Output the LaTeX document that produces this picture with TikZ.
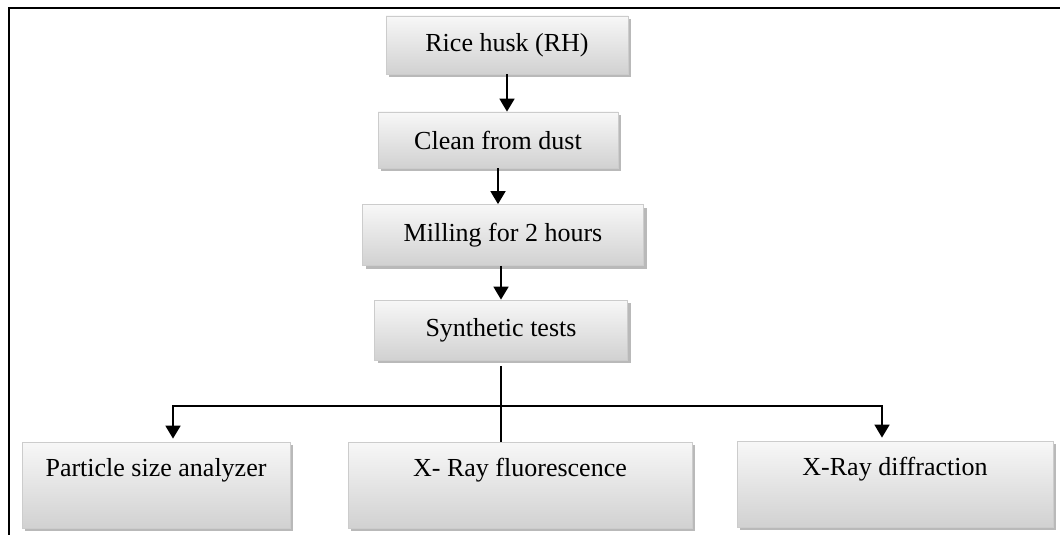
\documentclass[tikz,border=0pt]{standalone}
\usepackage{fontspec}
\setmainfont{Liberation Serif}
\usetikzlibrary{arrows.meta,shadows}

\tikzset{
  box/.style={draw=gray!40, top color=gray!6, bottom color=gray!36,
    drop shadow={shadow xshift=1.5pt, shadow yshift=-1.5pt, fill=gray!55, opacity=1},
    font=\fontsize{13}{15}\selectfont},
  testbox/.style={box, inner ysep=0pt, text height=17.3pt, text depth=25.7pt},
  arrow/.style={-{Triangle[length=6.5pt,width=7.5pt]}, line width=0.9pt},
}

\begin{document}
\begin{tikzpicture}[x=0.5pt, y=-0.5pt, node distance=47.5pt]
			\useasboundingbox (0,0) rectangle (1060,535);
			\draw[line width=1.1pt] (1060,8) -- (9,8) -- (9,535);
			
			\node[box, minimum width=121pt, minimum height=29pt] (rice) at (507,45) {Rice husk (RH)};
			\node[box, below of=rice, xshift=-4.5pt, minimum width=120pt, minimum height=28pt] (clean) {Clean from dust};
			\node[box, below of=clean, xshift=2.5pt, minimum width=140.5pt, minimum height=30.5pt] (milling) {Milling for 2 hours};
			\node[box, below of=milling, xshift=-1pt, minimum width=126.5pt, minimum height=30pt] (synthetic) {Synthetic tests};
			
			\node[testbox, minimum width=134pt] (particle) at (156,485) {Particle size analyzer};
			\node[testbox, minimum width=172pt] (fluor) at (520,485) {X- Ray fluorescence};
			\node[testbox, minimum width=158pt] (diffraction) at (895,484) {X-Ray diffraction};
			
			\draw[arrow] (rice.south) -- (rice.south |- clean.north);
			\draw[arrow] (clean.south) -- (clean.south |- milling.north);
			\draw[arrow] (milling.south -| synthetic.north) -- (synthetic.north);
			
			\coordinate (split) at (synthetic.south |- 0,406);
			\draw[line width=0.9pt, shorten <=3pt] (synthetic.south) -- (synthetic.south |- fluor.north);
			\draw[arrow, shorten >=1.5pt] (split) -| ([xshift=8.5pt]particle.north);
			\draw[arrow, shorten >=1.5pt] (split) -| ([xshift=-6.5pt]diffraction.north);
		\end{tikzpicture}
\end{document}
